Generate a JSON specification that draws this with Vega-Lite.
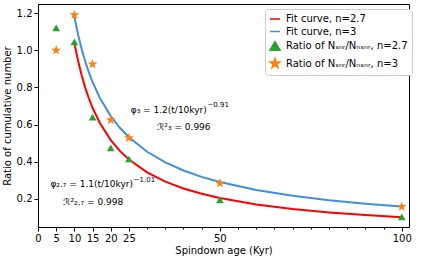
{
  "$schema": "https://vega.github.io/schema/vega-lite/v6.json",
  "width": 371,
  "height": 223,
  "autosize": {"type": "none"},
  "padding": {"left": 38, "top": 4, "right": 16, "bottom": 33},
  "background": "white",
  "config": {
    "view": {"stroke": "black", "strokeWidth": 1},
    "font": "DejaVu Sans",
    "axis": {
      "labelFont": "DejaVu Sans", "labelFontSize": 10, "labelColor": "black",
      "titleFont": "DejaVu Sans", "titleFontSize": 10, "titleFontWeight": "normal", "titleColor": "black",
      "tickColor": "black", "domainColor": "black", "grid": false, "tickSize": 4, "labelPadding": 2
    },
    "legend": {
      "labelFont": "DejaVu Sans", "labelFontSize": 10, "labelColor": "black",
      "strokeColor": "#cccccc", "fillColor": "white", "cornerRadius": 3, "padding": 4,
      "rowPadding": 1.5, "labelOffset": 5
    }
  },
  "datasets": {
    "curves": [
      {"series": "Fit curve, n=2.7", "t": 10, "ratio": 1.04},
      {"series": "Fit curve, n=2.7", "t": 11, "ratio": 0.9446},
      {"series": "Fit curve, n=2.7", "t": 12, "ratio": 0.8651},
      {"series": "Fit curve, n=2.7", "t": 13, "ratio": 0.7979},
      {"series": "Fit curve, n=2.7", "t": 14, "ratio": 0.7404},
      {"series": "Fit curve, n=2.7", "t": 15, "ratio": 0.6905},
      {"series": "Fit curve, n=2.7", "t": 17, "ratio": 0.6085},
      {"series": "Fit curve, n=2.7", "t": 20, "ratio": 0.5164},
      {"series": "Fit curve, n=2.7", "t": 22.5, "ratio": 0.4585},
      {"series": "Fit curve, n=2.7", "t": 25, "ratio": 0.4122},
      {"series": "Fit curve, n=2.7", "t": 30, "ratio": 0.3429},
      {"series": "Fit curve, n=2.7", "t": 35, "ratio": 0.2934},
      {"series": "Fit curve, n=2.7", "t": 40, "ratio": 0.2565},
      {"series": "Fit curve, n=2.7", "t": 45, "ratio": 0.2277},
      {"series": "Fit curve, n=2.7", "t": 50, "ratio": 0.2047},
      {"series": "Fit curve, n=2.7", "t": 60, "ratio": 0.1703},
      {"series": "Fit curve, n=2.7", "t": 70, "ratio": 0.1457},
      {"series": "Fit curve, n=2.7", "t": 80, "ratio": 0.1273},
      {"series": "Fit curve, n=2.7", "t": 90, "ratio": 0.113},
      {"series": "Fit curve, n=2.7", "t": 100, "ratio": 0.1016},
      {"series": "Fit curve, n=3", "t": 10, "ratio": 1.18},
      {"series": "Fit curve, n=3", "t": 11, "ratio": 1.0861},
      {"series": "Fit curve, n=3", "t": 12, "ratio": 1.0069},
      {"series": "Fit curve, n=3", "t": 13, "ratio": 0.9392},
      {"series": "Fit curve, n=3", "t": 14, "ratio": 0.8805},
      {"series": "Fit curve, n=3", "t": 15, "ratio": 0.8292},
      {"series": "Fit curve, n=3", "t": 17, "ratio": 0.7437},
      {"series": "Fit curve, n=3", "t": 20, "ratio": 0.6456},
      {"series": "Fit curve, n=3", "t": 22.5, "ratio": 0.5828},
      {"series": "Fit curve, n=3", "t": 25, "ratio": 0.5317},
      {"series": "Fit curve, n=3", "t": 30, "ratio": 0.4537},
      {"series": "Fit curve, n=3", "t": 35, "ratio": 0.3968},
      {"series": "Fit curve, n=3", "t": 40, "ratio": 0.3533},
      {"series": "Fit curve, n=3", "t": 45, "ratio": 0.3188},
      {"series": "Fit curve, n=3", "t": 50, "ratio": 0.2909},
      {"series": "Fit curve, n=3", "t": 60, "ratio": 0.2483},
      {"series": "Fit curve, n=3", "t": 70, "ratio": 0.2171},
      {"series": "Fit curve, n=3", "t": 80, "ratio": 0.1933},
      {"series": "Fit curve, n=3", "t": 90, "ratio": 0.1745},
      {"series": "Fit curve, n=3", "t": 100, "ratio": 0.1592}
    ],
    "points": [
      {"series": "Ratio of Nₛₙᵣ/Nₙₛₙᵣ, n=2.7", "t": 5, "ratio": 1.12},
      {"series": "Ratio of Nₛₙᵣ/Nₙₛₙᵣ, n=2.7", "t": 10, "ratio": 1.045},
      {"series": "Ratio of Nₛₙᵣ/Nₙₛₙᵣ, n=2.7", "t": 15, "ratio": 0.64},
      {"series": "Ratio of Nₛₙᵣ/Nₙₛₙᵣ, n=2.7", "t": 20, "ratio": 0.475},
      {"series": "Ratio of Nₛₙᵣ/Nₙₛₙᵣ, n=2.7", "t": 25, "ratio": 0.415},
      {"series": "Ratio of Nₛₙᵣ/Nₙₛₙᵣ, n=2.7", "t": 50, "ratio": 0.195},
      {"series": "Ratio of Nₛₙᵣ/Nₙₛₙᵣ, n=2.7", "t": 100, "ratio": 0.103},
      {"series": "Ratio of Nₛₙᵣ/Nₙₛₙᵣ, n=3", "t": 5, "ratio": 1.0},
      {"series": "Ratio of Nₛₙᵣ/Nₙₛₙᵣ, n=3", "t": 10, "ratio": 1.19},
      {"series": "Ratio of Nₛₙᵣ/Nₙₛₙᵣ, n=3", "t": 15, "ratio": 0.925},
      {"series": "Ratio of Nₛₙᵣ/Nₙₛₙᵣ, n=3", "t": 20, "ratio": 0.625},
      {"series": "Ratio of Nₛₙᵣ/Nₙₛₙᵣ, n=3", "t": 25, "ratio": 0.528},
      {"series": "Ratio of Nₛₙᵣ/Nₙₛₙᵣ, n=3", "t": 50, "ratio": 0.285},
      {"series": "Ratio of Nₛₙᵣ/Nₙₛₙᵣ, n=3", "t": 100, "ratio": 0.158}
    ],
    "notes": [
      {"part": "base", "t": 46.4, "ratio": 0.665, "label": "φ₃ = 1.2(t/10kyr)"},
      {"part": "sup", "t": 46.6, "ratio": 0.695, "label": "−0.91"},
      {"part": "center", "t": 40.1, "ratio": 0.573, "label": "ℛ²₃ = 0.996"},
      {"part": "base", "t": 26.1, "ratio": 0.265, "label": "φ₂.₇ = 1.1(t/10kyr)"},
      {"part": "sup", "t": 26.3, "ratio": 0.292, "label": "−1.01"},
      {"part": "center", "t": 15.2, "ratio": 0.168, "label": "ℛ²₂.₇ = 0.998"}
    ]
  },
  "resolve": {"axis": {"x": "independent"}},
  "layer": [
    {
      "data": {"name": "curves"},
      "mark": {"type": "line", "strokeWidth": 2},
      "encoding": {
        "x": {
          "field": "t", "type": "quantitative",
          "scale": {"domain": [0, 102], "nice": false, "zero": false},
          "axis": {"orient": "bottom", "values": [0, 5, 10, 15, 20, 25, 50, 100], "title": "Spindown age (Kyr)", "titlePadding": 2, "labelFlush": false}
        },
        "y": {
          "field": "ratio", "type": "quantitative",
          "scale": {"domain": [0.049, 1.249], "nice": false, "zero": false},
          "axis": {"values": [0.2, 0.4, 0.6, 0.8, 1.0, 1.2], "format": ".1f", "title": "Ratio of cumulative number", "titlePadding": 4, "labelFlush": false}
        },
        "color": {
          "field": "series", "type": "nominal",
          "scale": {
            "domain": ["Fit curve, n=2.7", "Fit curve, n=3", "Ratio of Nₛₙᵣ/Nₙₛₙᵣ, n=2.7", "Ratio of Nₛₙᵣ/Nₙₛₙᵣ, n=3"],
            "range": ["#ff0000", "#3f8fdc", "#2ca02c", "#ff7f0e"]
          }
        }
      }
    },
    {
      "data": {"name": "points"},
      "mark": {"type": "point", "filled": true, "opacity": 1},
      "encoding": {
        "x": {
          "field": "t", "type": "quantitative",
          "axis": {"orient": "bottom", "values": [30, 35, 40, 45, 55, 60, 65, 70, 75, 80, 85, 90, 95], "labels": false, "tickSize": 2, "domain": false, "title": null}
        },
        "y": {"field": "ratio", "type": "quantitative"},
        "color": {
          "field": "series", "type": "nominal",
          "legend": {
            "orient": "none", "legendX": 227, "legendY": 5, "title": null,
            "encode": {
              "symbols": {
                "update": {
                  "stroke": {"scale": "color", "field": "value"},
                  "strokeWidth": [{"test": "indexof(datum.value, 'Fit') === 0", "value": 2}, {"value": 0}],
                  "size": [{"test": "indexof(datum.value, 'Fit') === 0", "value": 196}, {"test": "indexof(datum.value, 'n=3') > 0", "value": 90}, {"value": 45}]
                }
              }
            }
          }
        },
        "shape": {
          "field": "series", "type": "nominal",
          "scale": {
            "domain": ["Fit curve, n=2.7", "Fit curve, n=3", "Ratio of Nₛₙᵣ/Nₙₛₙᵣ, n=2.7", "Ratio of Nₛₙᵣ/Nₙₛₙᵣ, n=3"],
            "range": ["stroke", "stroke", "triangle-up", "M0,-1L0.2245,-0.309L0.951,-0.309L0.363,0.118L0.588,0.809L0,0.382L-0.588,0.809L-0.363,0.118L-0.951,-0.309L-0.2245,-0.309Z"]
          }
        },
        "size": {
          "condition": {"test": "indexof(datum.series, 'n=3') > 0", "value": 110},
          "value": 60
        }
      }
    },
    {
      "data": {"name": "notes"},
      "transform": [{"filter": "datum.part === 'base'"}],
      "mark": {"type": "text", "fontSize": 9, "font": "DejaVu Sans", "align": "right", "baseline": "alphabetic", "color": "black"},
      "encoding": {
        "x": {"field": "t", "type": "quantitative", "axis": null},
        "y": {"field": "ratio", "type": "quantitative"},
        "text": {"field": "label"}
      }
    },
    {
      "data": {"name": "notes"},
      "transform": [{"filter": "datum.part === 'sup'"}],
      "mark": {"type": "text", "fontSize": 7, "font": "DejaVu Sans", "align": "left", "baseline": "alphabetic", "color": "black"},
      "encoding": {
        "x": {"field": "t", "type": "quantitative", "axis": null},
        "y": {"field": "ratio", "type": "quantitative"},
        "text": {"field": "label"}
      }
    },
    {
      "data": {"name": "notes"},
      "transform": [{"filter": "datum.part === 'center'"}],
      "mark": {"type": "text", "fontSize": 9, "font": "DejaVu Sans", "align": "center", "baseline": "alphabetic", "color": "black"},
      "encoding": {
        "x": {"field": "t", "type": "quantitative", "axis": null},
        "y": {"field": "ratio", "type": "quantitative"},
        "text": {"field": "label"}
      }
    }
  ]
}
